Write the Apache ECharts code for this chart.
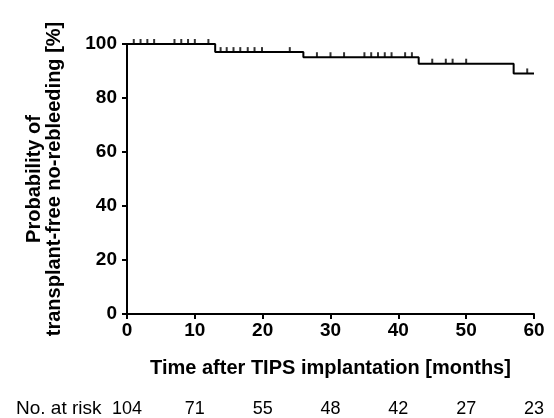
<!DOCTYPE html>
<html>
<head>
<meta charset="utf-8">
<script src="https://cdn.jsdelivr.net/npm/echarts@6/dist/echarts.min.js"></script>
<style>
html,body{margin:0;padding:0;background:#fff;}
#chart{width:554px;height:418px;}
</style>
</head>
<body>
<div id="chart"></div>
<script>
// Kaplan-Meier step values
var stepTimes = [0, 13, 26, 43, 57, 60];
var stepSurvival = [100, 97.0, 95.1, 92.7, 89.1, 89.1];
// censoring times (months)
var censorTimes = [1, 2, 3, 4, 7, 8, 9, 10, 12,
  13.8, 14.7, 15.7, 16.7, 17.8, 18.8, 19.9, 24,
  28, 30, 32, 35, 36, 37, 38, 39, 41, 42,
  45, 47, 48, 50, 59];
// number at risk
var riskTimes = [0, 10, 20, 30, 40, 50, 60];
var atRisk = [104, 71, 55, 48, 42, 27, 23];

function survivalAt(t) {
  var v = stepSurvival[0];
  for (var i = 0; i < stepTimes.length; i++) {
    if (stepTimes[i] <= t) v = stepSurvival[i];
  }
  return v;
}

var lineData = stepTimes.map(function (t, i) { return [t, stepSurvival[i]]; });
var censorData = censorTimes.map(function (t) { return [t, survivalAt(t)]; });

var FONT = 'Liberation Sans, Arial, Helvetica, sans-serif';
var chart = echarts.init(document.getElementById('chart'), null, {renderer: 'canvas'});

var option = {
  animation: false,
  backgroundColor: '#fff',
  grid: {left: 127, right: 20, top: 44, bottom: 104, containLabel: false},
  xAxis: {
    type: 'value', min: 0, max: 60, interval: 10,
    name: 'Time after TIPS implantation [months]',
    nameLocation: 'middle', nameGap: 44,
    nameTextStyle: {fontFamily: FONT, fontSize: 20, fontWeight: 'bold', color: '#000'},
    axisLine: {show: true, onZero: false, lineStyle: {color: '#000', width: 2}},
    axisTick: {show: true, length: 5, lineStyle: {color: '#000', width: 2}},
    axisLabel: {fontFamily: FONT, fontSize: 19, fontWeight: 'bold', color: '#000', margin: 7},
    splitLine: {show: false}
  },
  yAxis: {
    type: 'value', min: 0, max: 100, interval: 20,
    name: 'Probability of\ntransplant-free no-rebleeding [%]',
    nameLocation: 'middle', nameGap: 63,
    nameTextStyle: {fontFamily: FONT, fontSize: 20, fontWeight: 'bold', color: '#000', lineHeight: 20},
    axisLine: {show: true, onZero: false, lineStyle: {color: '#000', width: 2}},
    axisTick: {show: true, length: 5, lineStyle: {color: '#000', width: 2}},
    axisLabel: {fontFamily: FONT, fontSize: 19, fontWeight: 'bold', color: '#000', margin: 10},
    splitLine: {show: false}
  },
  series: [
    {
      type: 'line', step: 'end', data: lineData, showSymbol: false, clip: false,
      lineStyle: {color: '#000', width: 2}, z: 3
    },
    {
      type: 'scatter', data: censorData, symbol: 'rect', symbolSize: [2, 5],
      symbolOffset: [0, -2.5], itemStyle: {color: '#000'}, clip: false, z: 4
    }
  ]
};
chart.setOption(option);

// Number-at-risk row placed via the x axis scale
var rowY = 409;
var elements = [{
  type: 'text', left: 16, top: rowY - 10,
  style: {text: 'No. at risk', fontFamily: FONT, fontSize: 19, fill: '#000'}
}];
riskTimes.forEach(function (t, i) {
  var px = chart.convertToPixel({xAxisIndex: 0}, t);
  elements.push({
    type: 'text', x: px, y: rowY,
    style: {text: String(atRisk[i]), fontFamily: FONT, fontSize: 18, fill: '#000',
      align: 'center', verticalAlign: 'middle'}
  });
});
chart.setOption({graphic: {elements: elements}});
</script>
</body>
</html>
